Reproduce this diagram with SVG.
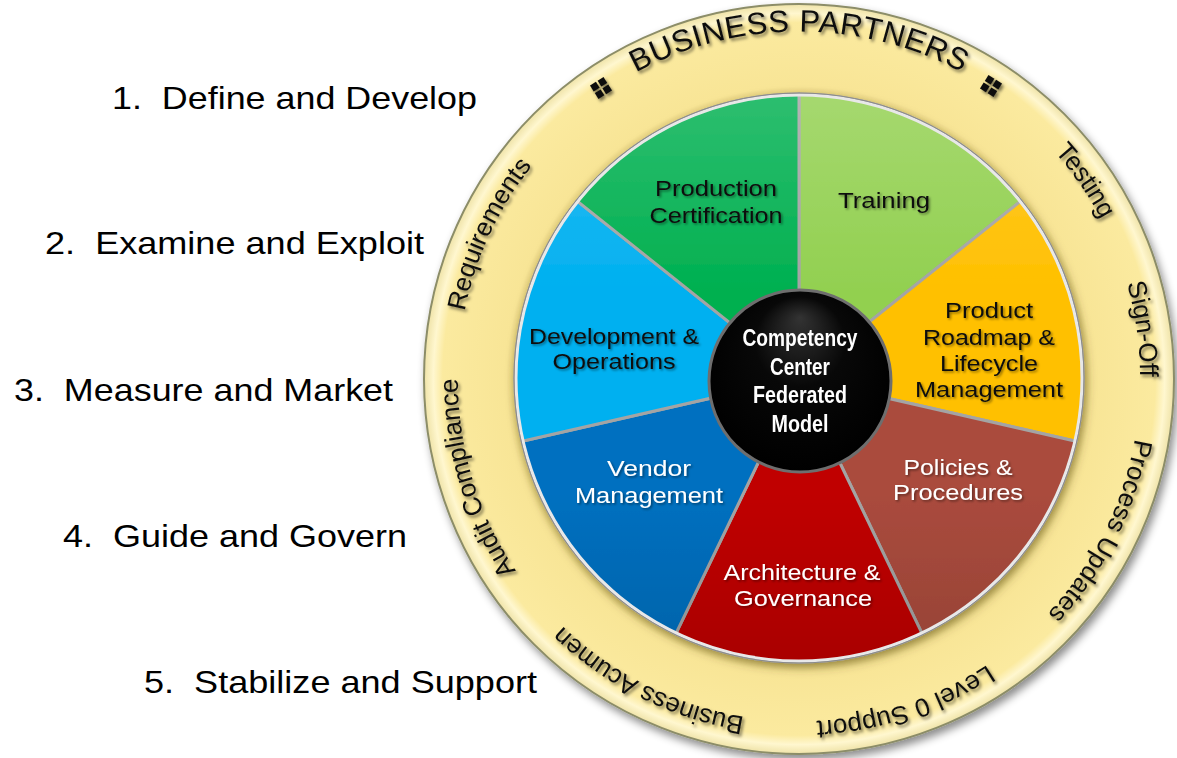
<svg xmlns="http://www.w3.org/2000/svg" width="1177" height="758" viewBox="0 0 1177 758">
<style>
  .list { font-family: "Liberation Sans", Arial, sans-serif; font-size: 32px; fill: #000; }
  .ring { font-family: "Liberation Sans", Arial, sans-serif; font-size: 26px; fill: #111; }
  .bp { font-family: "Liberation Sans", Arial, sans-serif; font-size: 31px; fill: #111; letter-spacing: 0.5px; }
  .lbl { font-family: "Liberation Sans", Arial, sans-serif; font-size: 22.5px; text-anchor: middle; }
  .dark { fill: #111; }
  .light { fill: #fff; }
  .ctr { font-family: "Liberation Sans", Arial, sans-serif; font-size: 23px; font-weight: bold; fill: #fff; text-anchor: middle; }
  .slice { stroke: #a4a4a4; stroke-width: 3; stroke-linejoin: round; }
  .sq { fill: #111; }
</style>
<defs>
  <filter id="ringShadow" x="-10%" y="-10%" width="125%" height="125%">
    <feDropShadow dx="3" dy="5" stdDeviation="4" flood-color="#000" flood-opacity="0.45"/>
  </filter>
  <filter id="pieShadow" x="-10%" y="-10%" width="125%" height="125%">
    <feDropShadow dx="2" dy="4" stdDeviation="5" flood-color="#4a3c05" flood-opacity="0.5"/>
  </filter>
  <filter id="txtShadow" x="-10%" y="-10%" width="130%" height="130%">
    <feDropShadow dx="2" dy="2.5" stdDeviation="1.4" flood-color="#000" flood-opacity="0.5"/>
  </filter>
  <filter id="lblShadow" x="-10%" y="-10%" width="130%" height="140%">
    <feDropShadow dx="1.5" dy="1.5" stdDeviation="1" flood-color="#000" flood-opacity="0.45"/>
  </filter>
  <radialGradient id="ringGrad" cx="799" cy="379" r="375" gradientUnits="userSpaceOnUse">
    <stop offset="0.74" stop-color="#DCC871"/>
    <stop offset="0.78" stop-color="#F8E596"/>
    <stop offset="0.95" stop-color="#FBEA9F"/>
    <stop offset="0.975" stop-color="#FFF7CF"/>
    <stop offset="1" stop-color="#EFE3A8"/>
  </radialGradient>
  <linearGradient id="bevel" x1="0" y1="0" x2="0" y2="1">
    <stop offset="0" stop-color="#fff" stop-opacity="0.18"/>
    <stop offset="0.35" stop-color="#fff" stop-opacity="0"/>
    <stop offset="0.7" stop-color="#000" stop-opacity="0"/>
    <stop offset="1" stop-color="#000" stop-opacity="0.12"/>
  </linearGradient>
  <radialGradient id="blackGrad" cx="0.5" cy="0.45" r="0.55" fx="0.5" fy="0.15">
    <stop offset="0" stop-color="#333"/>
    <stop offset="0.45" stop-color="#080808"/>
    <stop offset="1" stop-color="#000"/>
  </radialGradient>
  <path id="ringPath" d="M459.30,349.28 A341,341 0 1 1 1138.70,408.72 A341,341 0 1 1 459.30,349.28"/>
  <path id="bpPath" d="M454.32,348.84 A346,346 0 1 1 1143.68,409.16 A346,346 0 1 1 454.32,348.84"/>
</defs>

<rect x="0" y="0" width="1177" height="758" fill="#fff"/>

<g id="list">
  <text id="step1" class="list" x="112" y="109" textLength="365" lengthAdjust="spacingAndGlyphs" xml:space="preserve">1.  Define and Develop</text>
  <text id="step2" class="list" x="45" y="254" textLength="379" lengthAdjust="spacingAndGlyphs" xml:space="preserve">2.  Examine and Exploit</text>
  <text id="step3" class="list" x="14" y="401" textLength="379" lengthAdjust="spacingAndGlyphs" xml:space="preserve">3.  Measure and Market</text>
  <text id="step4" class="list" x="63" y="547" textLength="344" lengthAdjust="spacingAndGlyphs" xml:space="preserve">4.  Guide and Govern</text>
  <text id="step5" class="list" x="144" y="693" textLength="393" lengthAdjust="spacingAndGlyphs" xml:space="preserve">5.  Stabilize and Support</text>
</g>

<g id="ring">
  <circle cx="799" cy="379" r="375" fill="url(#ringGrad)" stroke="#8c8d68" stroke-width="2" filter="url(#ringShadow)"/>
</g>

<g id="ring-labels" filter="url(#txtShadow)">
  <g id="business-partners">
    <text class="bp"><textPath href="#bpPath" startOffset="23.61%" text-anchor="middle">BUSINESS PARTNERS</textPath></text>
    <g transform="translate(601,88) rotate(-32)">
      <rect class="sq" x="-8" y="-8" width="7" height="7"/>
      <rect class="sq" x="1" y="-8" width="7" height="7"/>
      <rect class="sq" x="-8" y="1" width="7" height="7"/>
      <rect class="sq" x="1" y="1" width="7" height="7"/>
    </g>
    <g transform="translate(991,86) rotate(32)">
      <rect class="sq" x="-8" y="-8" width="7" height="7"/>
      <rect class="sq" x="1" y="-8" width="7" height="7"/>
      <rect class="sq" x="-8" y="1" width="7" height="7"/>
      <rect class="sq" x="1" y="1" width="7" height="7"/>
    </g>
  </g>
  <text id="testing" class="ring"><textPath href="#ringPath" startOffset="38.97%" text-anchor="middle">Testing</textPath></text>
  <text id="sign-off" class="ring"><textPath href="#ringPath" startOffset="46.31%" text-anchor="middle">Sign-Off</textPath></text>
  <text id="process-updates" class="ring"><textPath href="#ringPath" startOffset="56.03%" text-anchor="middle">Process Updates</textPath></text>
  <text id="level0" class="ring"><textPath href="#ringPath" startOffset="68.56%" text-anchor="middle">Level 0 Support</textPath></text>
  <text id="business-acumen" class="ring"><textPath href="#ringPath" startOffset="80.97%" text-anchor="middle">Business Acumen</textPath></text>
  <text id="audit-compliance" class="ring"><textPath href="#ringPath" startOffset="93.89%" text-anchor="middle">Audit Compliance</textPath></text>
  <text id="requirements" class="ring"><textPath href="#ringPath" startOffset="5.56%" text-anchor="middle">Requirements</textPath></text>
</g>

<g id="pie" filter="url(#pieShadow)">
  <g id="training"><path class="slice" fill="#92D050" d="M799,378 L799,94 A284,284 0 0 1 1021.03,200.93 Z"/></g>
  <g id="product-roadmap"><path class="slice" fill="#FFC000" d="M799,378 L1021.03,200.93 A284,284 0 0 1 1075.87,441.19 Z"/></g>
  <g id="policies"><path class="slice" fill="#AA4B3D" d="M799,378 L1075.87,441.19 A284,284 0 0 1 922.23,633.88 Z"/></g>
  <g id="architecture"><path class="slice" fill="#C00000" d="M799,378 L922.23,633.88 A284,284 0 0 1 675.77,633.88 Z"/></g>
  <g id="vendor"><path class="slice" fill="#0070C0" d="M799,378 L675.77,633.88 A284,284 0 0 1 522.13,441.19 Z"/></g>
  <g id="development"><path class="slice" fill="#00B0F0" d="M799,378 L522.13,441.19 A284,284 0 0 1 576.97,200.93 Z"/></g>
  <g id="production"><path class="slice" fill="#00B050" d="M799,378 L576.97,200.93 A284,284 0 0 1 799,94 Z"/></g>
  <circle cx="799" cy="378" r="284" fill="url(#bevel)"/>
  <circle cx="799" cy="378" r="283" fill="none" stroke="#e8e8e8" stroke-width="3"/>
  <circle cx="799" cy="378" r="285" fill="none" stroke="#8a8a8a" stroke-width="1"/>
</g>

<g id="slice-labels" filter="url(#lblShadow)">
  <g id="lbl-production">
    <text class="lbl dark" x="716" y="196" textLength="122" lengthAdjust="spacingAndGlyphs">Production</text>
    <text class="lbl dark" x="716" y="223" textLength="133" lengthAdjust="spacingAndGlyphs">Certification</text>
  </g>
  <g id="lbl-training">
    <text class="lbl dark" x="884" y="208" textLength="92" lengthAdjust="spacingAndGlyphs">Training</text>
  </g>
  <g id="lbl-development">
    <text class="lbl dark" x="614" y="344" textLength="170" lengthAdjust="spacingAndGlyphs">Development &amp;</text>
    <text class="lbl dark" x="614" y="369" textLength="123" lengthAdjust="spacingAndGlyphs">Operations</text>
  </g>
  <g id="lbl-product-roadmap">
    <text class="lbl dark" x="989" y="318" textLength="88" lengthAdjust="spacingAndGlyphs">Product</text>
    <text class="lbl dark" x="989" y="345" textLength="132" lengthAdjust="spacingAndGlyphs">Roadmap &amp;</text>
    <text class="lbl dark" x="989" y="371" textLength="98" lengthAdjust="spacingAndGlyphs">Lifecycle</text>
    <text class="lbl dark" x="989" y="397" textLength="148" lengthAdjust="spacingAndGlyphs">Management</text>
  </g>
  <g id="lbl-policies">
    <text class="lbl light" x="958" y="475" textLength="109" lengthAdjust="spacingAndGlyphs">Policies &amp;</text>
    <text class="lbl light" x="958" y="500" textLength="130" lengthAdjust="spacingAndGlyphs">Procedures</text>
  </g>
  <g id="lbl-architecture">
    <text class="lbl light" x="802" y="580" textLength="157" lengthAdjust="spacingAndGlyphs">Architecture &amp;</text>
    <text class="lbl light" x="803" y="606" textLength="138" lengthAdjust="spacingAndGlyphs">Governance</text>
  </g>
  <g id="lbl-vendor">
    <text class="lbl light" x="649" y="476" textLength="84" lengthAdjust="spacingAndGlyphs">Vendor</text>
    <text class="lbl light" x="649" y="503" textLength="148" lengthAdjust="spacingAndGlyphs">Management</text>
  </g>
</g>

<g id="center">
  <circle cx="800" cy="381" r="91" fill="url(#blackGrad)" stroke="#6e6e6e" stroke-width="3"/>
  <text class="ctr" x="800" y="346" textLength="115" lengthAdjust="spacingAndGlyphs">Competency</text>
  <text class="ctr" x="800" y="375" textLength="60" lengthAdjust="spacingAndGlyphs">Center</text>
  <text class="ctr" x="800" y="403" textLength="94" lengthAdjust="spacingAndGlyphs">Federated</text>
  <text class="ctr" x="800" y="432" textLength="57" lengthAdjust="spacingAndGlyphs">Model</text>
</g>
</svg>
